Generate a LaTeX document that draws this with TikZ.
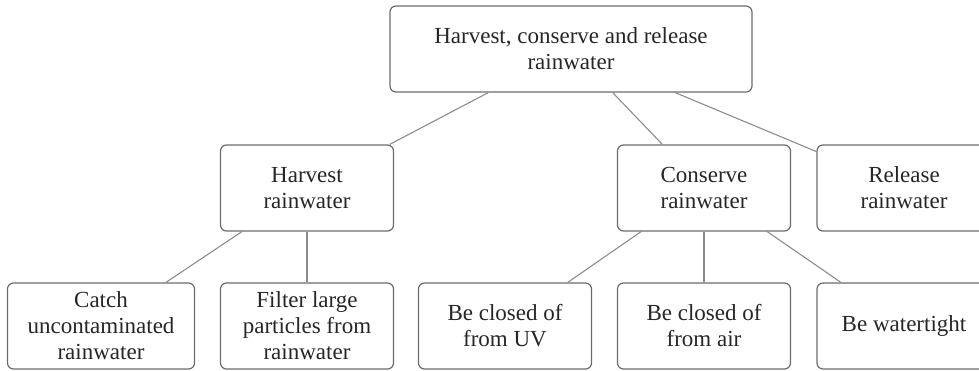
\documentclass[tikz,border=0pt]{standalone}
\usepackage{fontspec}
\setmainfont{Liberation Serif}
\begin{document}
\begin{tikzpicture}[x=1pt,y=-1pt,
  box/.style={draw=black!58, line width=1.2pt, rounded corners=6pt,
    minimum height=86pt, inner sep=4pt, align=center, text=black!85,
    font=\fontsize{23}{26}\selectfont},
  link/.style={draw=black!45, line width=1.1pt}]
  \useasboundingbox (0,0) rectangle (979,370);
  % top goal
  \node[box, minimum width=362pt] (goal) at (571,49)
    {Harvest, conserve and release\\rainwater};
  % second level
  \node[box, minimum width=173pt] (harvest) at (307,188) {Harvest\\rainwater};
  \node[box, minimum width=173pt] (conserve) at (704,188) {Conserve\\rainwater};
  \node[box, minimum width=174pt] (release) at (904,188) {Release\\rainwater};
  % third level
  \node[box, minimum width=187pt] (catch) at (101,326) {Catch\\uncontaminated\\rainwater};
  \node[box, minimum width=173pt] (filter) at (307,326) {Filter large\\particles from\\rainwater};
  \node[box, minimum width=173pt] (uv) at (505,326) {Be closed of\\from UV};
  \node[box, minimum width=173pt] (air) at (704,326) {Be closed of\\from air};
  \node[box, minimum width=174pt] (tight) at (904,326) {Be watertight};
  % connectors
  \draw[link] (goal) -- (harvest);
  \draw[link] (goal) -- (conserve);
  \draw[link] (goal) -- (release);
  \draw[link] (harvest) -- (catch);
  \draw[link] (harvest) -- (filter);
  \draw[link] (conserve) -- (uv);
  \draw[link] (conserve) -- (air);
  \draw[link] (conserve) -- (tight);
\end{tikzpicture}
\end{document}
